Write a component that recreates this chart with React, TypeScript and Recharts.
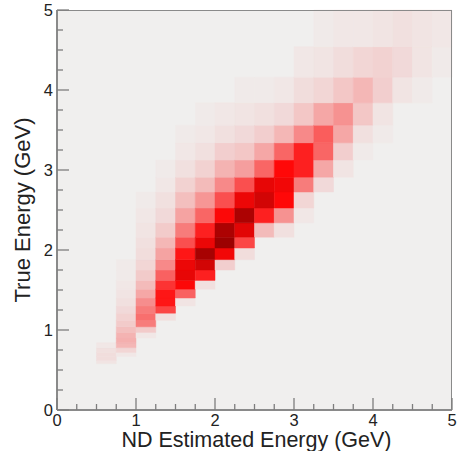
import React from 'react';
import { ComposedChart, XAxis, YAxis, ReferenceArea, Label, Scatter, Line } from 'recharts';

// Bin edges (GeV)
const xEdges = [0, 0.25, 0.5, 0.75, 1, 1.25, 1.5, 1.75, 2, 2.25, 2.5, 2.75, 3, 3.25, 3.5, 3.75, 4, 4.25, 4.5, 4.75, 5];
const yEdges = [0.58, 0.62, 0.67, 0.72, 0.78, 0.84, 0.9, 0.97, 1.04, 1.12, 1.21, 1.3, 1.4, 1.51, 1.62, 1.75, 1.88, 2.025, 2.16, 2.34, 2.525, 2.725, 2.91, 3.125, 3.34, 3.56, 3.84, 4.16, 4.54, 5.0];

// Tick positions and labels
const tickValues = [0, 0.25, 0.5, 0.75, 1, 1.25, 1.5, 1.75, 2, 2.25, 2.5, 2.75, 3, 3.25, 3.5, 3.75, 4, 4.25, 4.5, 4.75, 5];
const majorLabels = ['0', '1', '2', '3', '4', '5'];

// For each estimated-energy column: first true-energy row index with content
const columnStartRow = [0, 0, 0, 2, 6, 9, 11, 13, 15, 16, 18, 18, 19, 21, 22, 23, 24, 26, 26, 27];

// Relative density (0..1) per column, starting at columnStartRow
const columnValues: number[][] = [
  [],
  [],
  [0.04, 0.06, 0.06, 0.05, 0.03],
  [0.03, 0.08, 0.16, 0.18, 0.17, 0.14, 0.11, 0.09, 0.07, 0.05, 0.04, 0.03, 0.02, 0.02],
  [0.03, 0.11, 0.3, 0.33, 0.3, 0.26, 0.2, 0.15, 0.11, 0.08, 0.06, 0.05, 0.04, 0.03, 0.02],
  [0.05, 0.42, 0.52, 0.52, 0.46, 0.36, 0.27, 0.21, 0.16, 0.11, 0.07, 0.05, 0.03, 0.02],
  [0.04, 0.36, 0.56, 0.64, 0.62, 0.52, 0.4, 0.3, 0.21, 0.14, 0.09, 0.05, 0.03, 0.02],
  [0.05, 0.5, 0.72, 0.88, 0.62, 0.5, 0.35, 0.24, 0.15, 0.09, 0.05, 0.03, 0.02],
  [0.1, 0.6, 0.92, 0.86, 0.56, 0.4, 0.27, 0.17, 0.1, 0.05, 0.03],
  [0.06, 0.42, 0.66, 0.86, 0.62, 0.4, 0.22, 0.12, 0.07, 0.04, 0.02],
  [0.15, 0.5, 0.72, 0.64, 0.35, 0.2, 0.1, 0.05, 0.02],
  [0.05, 0.25, 0.55, 0.6, 0.55, 0.35, 0.16, 0.07, 0.03],
  [0.03, 0.08, 0.3, 0.5, 0.5, 0.27, 0.12, 0.06, 0.03],
  [0.07, 0.2, 0.35, 0.37, 0.2, 0.08, 0.04, 0.02],
  [0.04, 0.1, 0.2, 0.25, 0.12, 0.06, 0.03],
  [0.02, 0.05, 0.12, 0.16, 0.08, 0.03],
  [0.02, 0.04, 0.1, 0.09, 0.04],
  [0.04, 0.07, 0.05],
  [0.02, 0.04, 0.04],
  [0.02, 0.03],
];

const BG: [number, number, number] = [240, 239, 238];
const RED: [number, number, number] = [255, 8, 8];
const DARK: [number, number, number] = [135, 0, 0];

function mix(a: number[], b: number[], f: number) {
  const c = a.map((v, i) => Math.round(v + (b[i] - v) * f));
  return `rgb(${c[0]},${c[1]},${c[2]})`;
}

function colorFor(t: number) {
  if (t <= 0.55) return mix(BG, RED, Math.pow(t / 0.55, 1.15));
  return mix(RED, DARK, Math.min(1, (t - 0.55) / 0.45));
}

type Cell = { x1: number; x2: number; y1: number; y2: number; v: number };
const cells: Cell[] = [];
columnValues.forEach((vals, c) => {
  vals.forEach((v, k) => {
    const r = columnStartRow[c] + k;
    cells.push({ x1: xEdges[c], x2: xEdges[c + 1], y1: yEdges[r], y2: yEdges[r + 1], v });
  });
});

const FONT = '"Liberation Sans", Arial, Helvetica, sans-serif';
const TICK_COLOR = '#7d7d7d';
const FRAME_COLOR = '#8a8a8a';
const TEXT_COLOR = '#222';
const D0 = 0;
const D1 = 5;

const isMajor = (v: number) => Math.abs(v - Math.round(v)) < 1e-6;
const labelFor = (v: number) => majorLabels[Math.round(v)];

// Points used to bind the axes (one per tick)
const axisPoints = tickValues.map((v) => ({ xc: v, yc: v }));

// Frame outline corners
const framePoints = [
  { xc: D0, yc: D0 },
  { xc: D0, yc: D1 },
  { xc: D1, yc: D1 },
  { xc: D1, yc: D0 },
  { xc: D0, yc: D0 },
];

const BottomTick = (props: any) => {
  const { x, y, payload } = props;
  const v = payload.value;
  const major = isMajor(v);
  return (
    <g>
      <line x1={x} y1={y} x2={x} y2={y - (major ? 12 : 6)} stroke={TICK_COLOR} strokeWidth={1.3} />
      {major && (
        <text x={x} y={y + 16} textAnchor="middle" fontFamily={FONT} fontSize={16.5} fill={TEXT_COLOR}>
          {labelFor(v)}
        </text>
      )}
    </g>
  );
};

const LeftTick = (props: any) => {
  const { x, y, payload } = props;
  const v = payload.value;
  const major = isMajor(v);
  return (
    <g>
      <line x1={x} y1={y} x2={x + (major ? 12 : 6)} y2={y} stroke={TICK_COLOR} strokeWidth={1.3} />
      {major && (
        <text x={x - 4} y={y} dy="0.36em" textAnchor="end" fontFamily={FONT} fontSize={16.5} fill={TEXT_COLOR}>
          {labelFor(v)}
        </text>
      )}
    </g>
  );
};

const TopTick = (props: any) => {
  const { x, y, payload } = props;
  const major = isMajor(payload.value);
  return <line x1={x} y1={y} x2={x} y2={y + (major ? 12 : 6)} stroke={TICK_COLOR} strokeWidth={1.3} />;
};

const RightTick = (props: any) => {
  const { x, y, payload } = props;
  const major = isMajor(payload.value);
  return <line x1={x} y1={y} x2={x - (major ? 12 : 6)} y2={y} stroke={TICK_COLOR} strokeWidth={1.3} />;
};

const XTitle = (props: any) => {
  const vb = props.viewBox || {};
  return (
    <text x={vb.x + vb.width / 2 + 2} y={vb.y + 37} textAnchor="middle" fontFamily={FONT} fontSize={21.5} fill={TEXT_COLOR}>
      ND Estimated Energy (GeV)
    </text>
  );
};

const YTitle = (props: any) => {
  const vb = props.viewBox || {};
  const cx = vb.x + 30;
  const cy = vb.y + vb.height / 2;
  return (
    <text x={cx} y={cy} transform={`rotate(-90, ${cx}, ${cy})`} textAnchor="middle" fontFamily={FONT} fontSize={22} fill={TEXT_COLOR}>
      True Energy (GeV)
    </text>
  );
};

const Hidden = () => <g />;

const axisCommon: any = {
  type: 'number',
  domain: [D0, D1],
  ticks: tickValues,
  interval: 0,
  allowDataOverflow: true,
  tickSize: 0,
  tickMargin: 0,
  tickLine: false,
  axisLine: { stroke: FRAME_COLOR, strokeWidth: 2 },
};

export default function App() {
  return (
    <div style={{ position: 'absolute', left: 0, top: 0, width: 457, height: 451, background: '#fff' }}>
      <ComposedChart width={457} height={451} margin={{ top: 10, right: 5, bottom: 0, left: 0 }}>
        <XAxis xAxisId={0} dataKey="xc" height={41} tick={<BottomTick />} {...axisCommon}>
          <Label content={<XTitle />} />
        </XAxis>
        <XAxis xAxisId="top" dataKey="xc" orientation="top" height={0} tick={<TopTick />} {...axisCommon} />
        <YAxis yAxisId={0} dataKey="yc" width={57} tick={<LeftTick />} {...axisCommon}>
          <Label content={<YTitle />} />
        </YAxis>
        <YAxis yAxisId="right" dataKey="yc" orientation="right" width={0} tick={<RightTick />} {...axisCommon} />
        {/* translucent plot background over the white page, so axis marks below stay visible */}
        <ReferenceArea x1={D0} x2={D1} y1={D0} y2={D1} fill="rgb(41,26,12)" fillOpacity={0.07} stroke="none" />
        {cells.map((c, i) => {
          const col = colorFor(c.v);
          return (
            <ReferenceArea
              key={`c${i}`}
              x1={c.x1}
              x2={c.x2}
              y1={c.y1}
              y2={c.y2}
              fill={col}
              fillOpacity={1}
              stroke={col}
              strokeWidth={0.5}
            />
          );
        })}
        <Scatter data={axisPoints} dataKey="yc" xAxisId={0} yAxisId={0} shape={<Hidden />} isAnimationActive={false} />
        <Scatter data={axisPoints} dataKey="yc" xAxisId="top" yAxisId="right" shape={<Hidden />} isAnimationActive={false} />
        <Line
          data={framePoints}
          dataKey="yc"
          xAxisId={0}
          yAxisId={0}
          type="linear"
          stroke={FRAME_COLOR}
          strokeWidth={2}
          dot={false}
          activeDot={false}
          isAnimationActive={false}
        />
      </ComposedChart>
    </div>
  );
}
